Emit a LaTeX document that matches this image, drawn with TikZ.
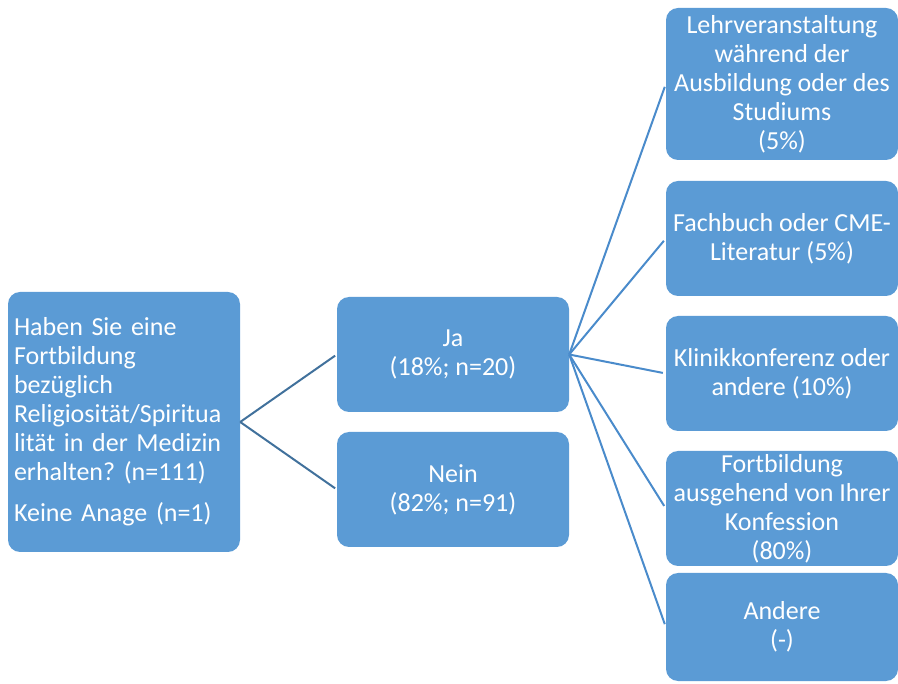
\documentclass[tikz,border=0pt]{standalone}
\usepackage{fontspec}
\setmainfont{Carlito}
\definecolor{boxblue}{HTML}{5B9BD5}
\definecolor{lineleft}{HTML}{41719C}
\definecolor{lineright}{HTML}{4A8BCB}
\begin{document}
\frenchspacing
\begin{tikzpicture}[x=1pt,y=-1pt,
  box/.style={draw=none,fill=boxblue,rounded corners=12pt,text=white,
    minimum width=232pt,align=center,inner sep=0pt,
    font=\fontsize{26}{29}\selectfont},
  connl/.style={draw=lineleft,line width=2pt,shorten >=2pt},
  connr/.style={draw=lineright,line width=2pt,shorten >=3pt}]
\useasboundingbox (0,0) rectangle (898,684);
\node[box,minimum height=260pt,text width=220pt,align=left] (root) at (124,422)
  {Haben Sie eine\\Fortbildung\\bezüglich\\Religiosität/Spiritua\\lität in der Medizin\\erhalten? (n=111)\\[12pt]Keine Anage (n=1)};
\node[box,minimum height=115pt] (ja) at (453,354.5) {Ja\\(18\%; n=20)};
\node[box,minimum height=115pt] (nein) at (453,489.5) {Nein\\(82\%; n=91)};
\node[box,minimum height=152pt] (b1) at (782,84) {Lehrveranstaltung\\während der\\Ausbildung oder des\\Studiums\\(5\%)};
\node[box,minimum height=115pt] (b2) at (782,238.5) {Fachbuch oder CME-\\Literatur (5\%)};
\node[box,minimum height=115pt] (b3) at (782,373.5) {Klinikkonferenz oder\\andere (10\%)};
\node[box,minimum height=115pt] (b4) at (782,508.5) {Fortbildung\\ausgehend von Ihrer\\Konfession\\(80\%)};
\node[box,minimum height=108pt] (b5) at (782,627) {Andere\\(-)};
\draw[connl] (root.east) -- (ja.west);
\draw[connl] (root.east) -- (nein.west);
\foreach \b in {b1,b2,b3,b4,b5}
  \draw[connr] (ja.east) -- (\b.west);
\end{tikzpicture}
\end{document}
